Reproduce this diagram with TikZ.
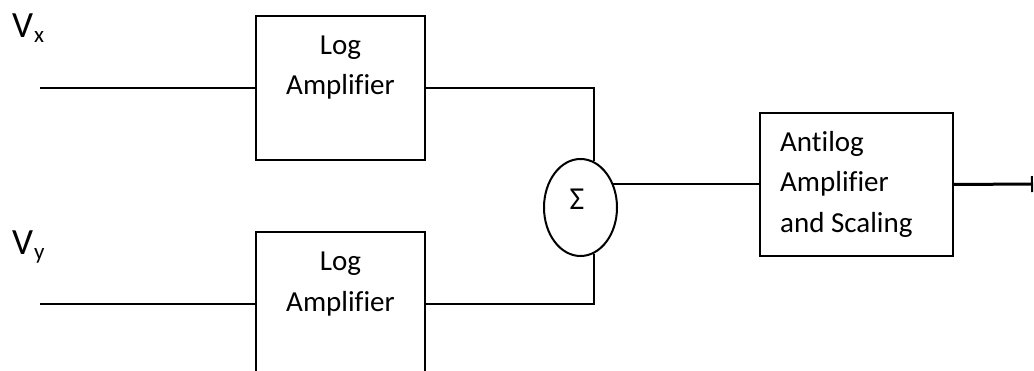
\documentclass[tikz,border=0pt]{standalone}
\usepackage{fontspec}
\setmainfont{Carlito}[Ligatures=NoCommon]
\usetikzlibrary{shapes.geometric,arrows.meta}
\begin{document}
\begin{tikzpicture}[x=1pt,y=-1pt,
  wire/.style={line width=2pt,black},
  blockbox/.style={draw,line width=2pt,minimum width=169pt,minimum height=144pt,inner sep=0pt},
  lbl/.style={anchor=base,inner sep=0pt,font=\fontsize{29}{34}\selectfont},
  lbll/.style={anchor=base west,inner sep=0pt,font=\fontsize{29}{34}\selectfont},
  vlbl/.style={anchor=base west,inner sep=0pt,font=\fontsize{37}{40}\selectfont}]
\useasboundingbox (0,0) rectangle (1034,371);
\clip (0,0) rectangle (1034,371);
\fill[white] (0,0) rectangle (1034,371);
% blocks
\node[blockbox] (lx) at (340.5,88) {};
\node[blockbox] (ly) at (340.5,304) {};
\node[draw,line width=2pt,minimum width=193pt,minimum height=143pt,inner sep=0pt] (anti) at (856.5,184.5) {};
\node[ellipse,draw,line width=2pt,minimum width=73pt,minimum height=97pt,inner sep=0pt] (sum) at (580.5,207.5) {};
\node[anchor=base,inner sep=0pt,font=\fontsize{32}{36}\selectfont] (sig) at (577,210) {Σ};
% texts
\node[lbl] (lx1) at (340.5,55) {Log};
\node[lbl] (lx2) at (340.5,95) {Amplifier};
\node[lbl] (ly1) at (340.5,271) {Log};
\node[lbl] (ly2) at (340.5,312) {Amplifier};
\node[lbll] (an1) at (780,152) {Antilog};
\node[lbll] (an2) at (780,192) {Amplifier};
\node[lbll] (an3) at (780,233) {and Scaling};
\node[vlbl] (vx) at (12,38) {V};
\node[anchor=base west,inner sep=0pt,font=\fontsize{23}{26}\selectfont] (vxs) at (34,43) {x};
\node[vlbl] (vy) at (12,255) {V};
\node[anchor=base west,inner sep=0pt,font=\fontsize{23}{26}\selectfont] (vys) at (34,260) {y};
% connectors
\coordinate (inx) at (40,88);
\coordinate (iny) at (40,304);
\coordinate (out) at (1033,184);
\draw[wire] (inx) -- (lx.west);
\draw[wire] (iny) -- (ly.west);
\draw[wire] (lx.east) -| (sum.74.7);
\draw[wire] (ly.east) -| (sum.-74.7);
\draw[wire] (sum.36.4) -- (sum.36.4 -| anti.west);
\draw[line width=3pt,-{Bar[width=16pt,line width=2pt]}] (anti.east) -- (out);
\end{tikzpicture}
\end{document}
